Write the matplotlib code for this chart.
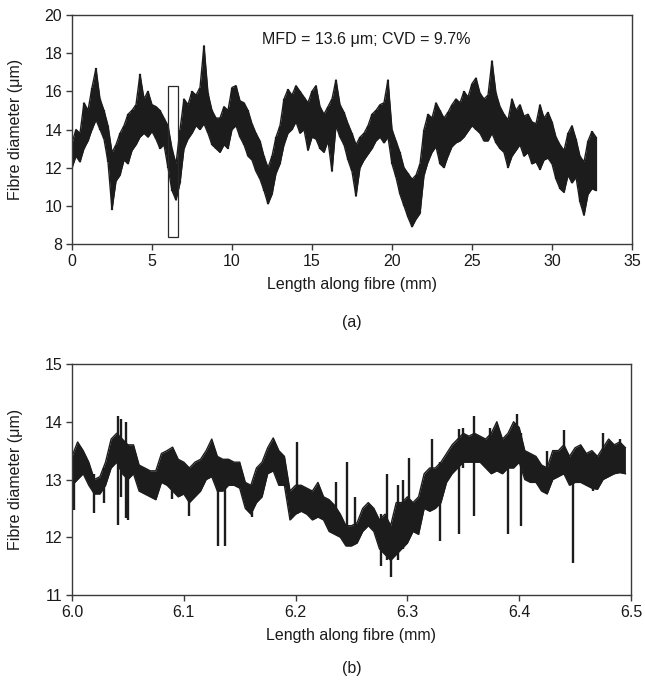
import numpy as np
import matplotlib
matplotlib.use("Agg")
import matplotlib.pyplot as plt
from matplotlib.patches import Rectangle

plt.rcParams['font.family'] = ['Liberation Sans', 'DejaVu Sans']

# ---------------- data: panel (a), 0.25 mm steps, local low / high ----------------
top_x0 = 0.0
top_step = 0.25
top_lo = [12.0, 12.6, 12.3, 13.0, 13.4, 14.0, 14.5, 14.0, 13.5, 12.3,
          9.8, 11.3, 11.6, 12.4, 12.2, 12.9, 13.2, 13.6, 13.8, 13.6,
          13.9, 13.5, 13.0, 13.2, 12.0, 10.8, 10.3, 11.2, 13.0, 13.5,
          13.8, 14.2, 14.0, 14.3, 13.8, 13.2, 13.0, 12.8, 13.2, 13.0,
          14.0, 14.2, 13.6, 13.2, 12.6, 12.4, 11.8, 11.4, 10.8, 10.1,
          10.6, 11.7, 12.2, 13.2, 13.8, 14.0, 14.4, 13.8, 14.0, 12.9,
          13.6, 13.5, 13.0, 12.8, 13.4, 11.8, 14.2, 13.6, 13.2, 12.4,
          11.8, 10.5, 12.0, 12.4, 12.7, 13.0, 13.4, 13.6, 13.3, 13.6,
          12.2, 11.5, 10.6, 10.0, 9.4, 8.9, 9.3, 9.6, 11.6, 12.3,
          12.8, 13.1, 12.2, 12.0, 12.6, 13.1, 13.3, 13.4, 13.6, 13.9,
          14.2, 14.0, 13.8, 13.4, 13.4, 13.8, 13.3, 13.0, 12.8, 12.0,
          12.6, 12.9, 13.2, 12.6, 12.8, 12.2, 12.3, 11.9, 12.4, 12.5,
          12.2, 11.4, 10.9, 10.7, 11.6, 11.2, 11.5, 10.2, 9.5, 10.6,
          10.9, 10.8]
top_hi = [13.3, 14.0, 13.8, 15.4, 15.0, 16.2, 17.2, 15.6, 15.0, 14.2,
          12.8, 13.2, 13.8, 14.2, 14.8, 15.0, 15.3, 16.9, 15.6, 16.0,
          15.3, 15.2, 15.0, 14.6, 14.2, 13.0, 12.2, 14.0, 15.6, 15.3,
          16.0, 15.8, 16.2, 18.4, 15.9, 15.0, 14.6, 14.6, 15.2, 15.0,
          16.2, 16.3, 15.5, 15.4, 15.0, 14.3, 13.8, 13.4, 12.6, 12.0,
          12.6, 13.6, 14.2, 15.6, 16.1, 15.8, 16.3, 16.0, 15.7, 15.4,
          16.0, 16.3, 15.2, 14.8, 15.2, 15.6, 16.6, 15.3, 14.9, 14.3,
          13.8, 13.2, 13.6, 13.8, 14.2, 14.8, 15.0, 15.3, 15.4, 16.6,
          14.0, 13.4, 12.8, 12.0, 11.7, 11.4, 11.6, 12.2, 14.0, 14.8,
          14.6, 15.4, 15.0, 14.6, 14.9, 15.3, 15.6, 15.4, 16.0, 15.7,
          16.4, 16.7, 15.9, 15.6, 15.8, 17.6, 15.9, 15.2, 14.8, 14.5,
          15.6, 15.0, 15.3, 14.7, 14.8, 14.4, 14.3, 15.3, 14.6, 14.9,
          14.4, 13.6, 13.2, 12.9, 13.8, 14.2, 13.5, 12.6, 12.3, 13.4,
          13.9, 13.6]

# ---------------- data: panel (b), 0.005 mm steps, band low / high ----------------
bot_x0 = 6.0
bot_step = 0.005
bot_lo = [12.9, 13.0, 13.1, 12.9, 12.75, 12.75, 12.9, 13.2, 13.3, 13.1,
          13.0, 13.1, 12.8, 12.75, 12.7, 12.65, 12.95, 12.9, 12.8, 12.7,
          12.75, 12.6, 12.7, 12.8, 13.0, 13.05, 12.8, 12.8, 12.9, 12.9,
          12.85, 12.5, 12.4, 12.6, 12.7, 13.1, 13.15, 12.9, 12.9, 12.3,
          12.4, 12.45, 12.4, 12.3, 12.35, 12.3, 12.1, 12.05, 12.0, 11.85,
          11.85, 11.9, 12.1, 12.2, 12.1, 11.8, 11.7, 11.6, 11.7, 11.8,
          11.9, 12.1, 12.05, 12.5, 12.45, 12.5, 12.6, 12.95, 13.1, 13.2,
          13.3, 13.3, 13.3, 13.3, 13.2, 13.1, 13.15, 13.1, 13.2, 13.2,
          13.3, 13.0, 12.95, 12.95, 12.8, 12.75, 13.0, 13.05, 13.1, 12.9,
          12.95, 12.95, 12.9, 12.85, 12.83, 13.0, 13.05, 13.1, 13.12, 13.1]
bot_hi = [13.4, 13.65, 13.5, 13.3, 13.0, 13.05, 13.3, 13.7, 13.8, 13.7,
          13.6, 13.6, 13.25, 13.2, 13.15, 13.15, 13.45, 13.5, 13.56, 13.35,
          13.3, 13.2, 13.3, 13.35, 13.5, 13.7, 13.4, 13.35, 13.35, 13.3,
          13.3, 12.95, 12.9, 13.2, 13.3, 13.55, 13.72, 13.5, 13.4, 12.8,
          12.9, 12.9, 12.85, 12.8, 12.95, 12.7, 12.65, 12.55, 12.4, 12.2,
          12.2, 12.25, 12.5, 12.6, 12.5, 12.3, 12.4, 12.2, 12.6, 12.6,
          12.7, 12.6, 12.7, 13.1, 13.2, 13.2, 13.3, 13.45, 13.6, 13.7,
          13.8, 13.75, 13.8, 13.75, 13.7, 13.8, 14.0, 13.7, 13.8, 14.0,
          13.9, 13.5, 13.45, 13.4, 13.25, 13.2, 13.5, 13.5, 13.6, 13.4,
          13.55, 13.6, 13.45, 13.5, 13.4, 13.55, 13.7, 13.6, 13.65, 13.55]
# isolated narrow spikes in panel (b): position, lower end, upper end
spike_x = [6.002, 6.020, 6.029, 6.041, 6.044, 6.048, 6.050, 6.089, 6.105,
           6.131, 6.137, 6.161, 6.201, 6.236, 6.246, 6.253, 6.276, 6.282,
           6.285, 6.292, 6.296, 6.301, 6.322, 6.329, 6.346, 6.350, 6.360,
           6.374, 6.390, 6.398, 6.402, 6.425, 6.440, 6.448, 6.466, 6.475,
           6.490]
spike_lo = [12.48, 12.42, 12.6, 12.22, 12.7, 12.34, 12.3, 12.66, 12.37,
            11.84, 11.84, 12.35, 12.4, 12.4, 11.9, 11.9, 11.5, 11.6,
            11.32, 11.6, 11.8, 12.2, 12.6, 11.93, 12.05, 13.2, 12.37,
            13.3, 12.05, 13.4, 12.2, 12.9, 13.2, 11.55, 12.8, 13.2,
            13.2]
spike_hi = [13.2, 13.1, 13.2, 14.1, 14.05, 14.0, 13.6, 13.3, 13.2,
            13.3, 13.3, 12.9, 13.65, 12.95, 13.3, 12.7, 12.4, 13.1,
            12.2, 12.9, 13.0, 13.38, 13.7, 13.3, 13.88, 13.9, 14.1,
            13.9, 13.6, 14.14, 13.8, 13.5, 13.85, 13.3, 13.4, 13.8,
            13.7]

top_annotation = "MFD = 13.6 \u03bcm; CVD = 9.7%"
top_xticks = [0, 5, 10, 15, 20, 25, 30, 35]
top_yticks = [8, 10, 12, 14, 16, 18, 20]
bot_xticks = [6.0, 6.1, 6.2, 6.3, 6.4, 6.5]
bot_yticks = [11, 12, 13, 14, 15]
zoom_box = (6.0, 6.65, 8.35, 16.3)  # x0, x1, y0, y1 of the marked section

W, H = 645, 686
fig = plt.figure(figsize=(W / 100, H / 100), dpi=100)

line_col = '#1c1c1c'
spine_col = '#3a3a3a'
fs = 11.5

ax1 = fig.add_axes([72 / W, 1 - 244 / H, 560 / W, 229 / H])
ax2 = fig.add_axes([72 / W, 1 - 595 / H, 559 / W, 231 / H])

tx = top_x0 + top_step * np.arange(len(top_lo))
ax1.fill_between(tx, top_lo, top_hi, color=line_col, lw=0)
ax1.vlines(tx, top_lo, top_hi, color=line_col, lw=1.6)
ax1.plot(tx, top_lo, color=line_col, lw=1.0)
ax1.plot(tx, top_hi, color=line_col, lw=1.0)
ax1.set_xlim(0, 35)
ax1.set_ylim(8, 20)
ax1.set_xticks(top_xticks)
ax1.set_yticks(top_yticks)
ax1.add_patch(Rectangle((zoom_box[0], zoom_box[2]), zoom_box[1] - zoom_box[0],
                        zoom_box[3] - zoom_box[2], fill=False,
                        edgecolor='#2a2a2a', lw=0.9, zorder=3))
ax1.text(18.4, 18.7, top_annotation, ha='center', va='center', fontsize=fs,
         color='#1a1a1a')

bx = bot_x0 + bot_step * np.arange(len(bot_lo))
ax2.fill_between(bx, bot_lo, bot_hi, color=line_col, lw=0)
ax2.plot(bx, bot_lo, color=line_col, lw=1.0)
ax2.plot(bx, bot_hi, color=line_col, lw=1.0)
ax2.vlines(spike_x, spike_lo, spike_hi, color=line_col, lw=1.7)
ax2.set_xlim(6.0, 6.5)
ax2.set_ylim(11, 15)
ax2.set_xticks(bot_xticks)
ax2.set_xticklabels([f"{v:.1f}" for v in bot_xticks])
ax2.set_yticks(bot_yticks)

for ax in (ax1, ax2):
    for s in ax.spines.values():
        s.set_color(spine_col)
        s.set_linewidth(1.0)
    ax.tick_params(direction='out', length=4, width=1.0, color=spine_col,
                   labelsize=fs, labelcolor='#1a1a1a', pad=3)
    ax.set_ylabel("Fibre diameter (\u03bcm)", fontsize=fs, color='#1a1a1a')
    ax.yaxis.set_label_coords(-0.088, 0.5)
    ax.set_xlabel("Length along fibre (mm)", fontsize=fs, color='#1a1a1a',
                  labelpad=6)

fig.text(0.5 * (72 + 632) / W, 1 - 323 / H, "(a)", ha='center', va='center',
         fontsize=fs, color='#1a1a1a')
fig.text(0.5 * (72 + 631) / W, 1 - 668 / H, "(b)", ha='center', va='center',
         fontsize=fs, color='#1a1a1a')

fig.savefig("out.png", dpi=100)
